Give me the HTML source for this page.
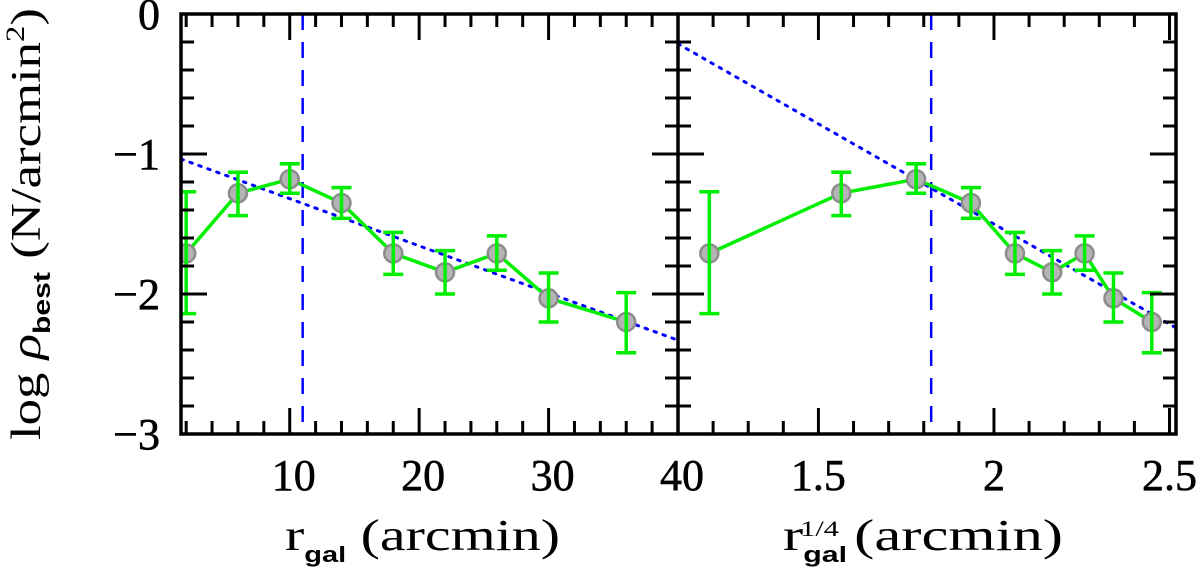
<!DOCTYPE html>
<html><head><meta charset="utf-8"><style>
html,body{margin:0;padding:0;background:#fff;}
svg{display:block;}
text{font-family:"Liberation Serif",serif;fill:#000;stroke:#000;stroke-width:0.6;}
text.title{stroke-width:0;}
</style></head><body>
<svg id="chart" width="1200" height="570" viewBox="0 0 1200 570" xmlns="http://www.w3.org/2000/svg">
<g id="g-left"></g>
<g id="g-right"></g>
<g id="g-axes"></g>
<text class="title" transform="translate(40,440) rotate(-90)" text-anchor="start" font-size="42" textLength="432" lengthAdjust="spacingAndGlyphs">log  <tspan font-style="italic">ρ</tspan><tspan font-family="Liberation Sans, sans-serif" font-weight="bold" font-size="24" dy="10">best</tspan><tspan dy="-10">  (N/arcmin</tspan><tspan font-size="26" dy="-16">2</tspan><tspan dy="16">)</tspan></text>
<text class="title" x="285" y="550" font-size="44" textLength="275" lengthAdjust="spacingAndGlyphs">r<tspan font-family="Liberation Sans, sans-serif" font-weight="bold" font-size="22" dy="12">gal</tspan><tspan dy="-12">  (arcmin)</tspan></text>
<text class="title" x="783" y="550" font-size="44" textLength="280" lengthAdjust="spacingAndGlyphs">r<tspan font-family="Liberation Sans, sans-serif" font-weight="bold" font-size="22" dy="12">gal</tspan><tspan font-size="22" dx="-34" dy="-26">1/4</tspan><tspan dy="14">  (arcmin)</tspan></text>
</svg>
<script>
// data
const rVals = [2, 6, 10, 14, 18, 22, 26, 30, 36];
const logRho = [-1.71, -1.28, -1.18, -1.35, -1.71, -1.845, -1.71, -2.03, -2.20];
const errHi = [-1.27, -1.13, -1.07, -1.24, -1.56, -1.69, -1.585, -1.85, -1.99];
const errLo = [-2.14, -1.44, -1.28, -1.46, -1.86, -2.00, -1.83, -2.20, -2.42];
const fitLeft = [-0.982, -0.0337];   // intercept, slope vs r
const fitRight = [1.36, -1.43];      // intercept, slope vs r^(1/4)
const rCut = 11.0;
const yTickLabels = ["0", "−1", "−2", "−3"];
const yTickVals = [0, -1, -2, -3];
const xTicksLeft = [10, 20, 30, 40];
const xTicksRight = [1.5, 2, 2.5];
const xTickLabelsRight = ["1.5", "2", "2.5"];

const NS = "http://www.w3.org/2000/svg";
const TOP = 14, BOT = 434;
const yS = v => TOP + (0 - v) * (BOT - TOP) / 3;
const L = {x0: 181, x1: 678, d0: 1.6, d1: 40};
const R = {x0: 678, x1: 1176, d0: 1.1, d1: 2.5185};
const xS = (p, v) => p.x0 + (v - p.d0) * (p.x1 - p.x0) / (p.d1 - p.d0);

function mk(tag, attrs, parent) {
  const e = document.createElementNS(NS, tag);
  for (const k in attrs) e.setAttribute(k, attrs[k]);
  parent.appendChild(e);
  return e;
}

function drawPanel(g, p, tf, fit) {
  const clipId = "clip" + p.x0;
  const cp = mk("clipPath", {id: clipId}, g);
  mk("rect", {x: p.x0, y: TOP, width: p.x1 - p.x0, height: BOT - TOP}, cp);
  const inner = mk("g", {"clip-path": "url(#" + clipId + ")"}, g);
  const fl = mk("line", {x1: xS(p, p.d0), y1: yS(fit[0] + fit[1] * p.d0), x2: xS(p, p.d1), y2: yS(fit[0] + fit[1] * p.d1), stroke: "#0000ff", "stroke-width": 3, "stroke-dasharray": "2.5 7", "stroke-linecap": "round"}, inner);
  
  
  const cx = xS(p, tf(rCut));
  const cl = mk("line", {x1: cx, y1: TOP, x2: cx, y2: BOT, stroke: "#0000ff", "stroke-width": 2.5, "stroke-dasharray": "16 12"}, inner);
  
  
  const pts = rVals.map((r, i) => xS(p, tf(r)) + "," + yS(logRho[i])).join(" ");
  const pl = mk("polyline", {points: pts, fill: "none", stroke: "#00ee00", "stroke-width": 3.5}, inner);
  
  
  rVals.forEach((r, i) => {
    const x = xS(p, tf(r));
    const c = mk("circle", {cx: x, cy: yS(logRho[i]), r: 9, fill: "#b4b4b4", stroke: "#8c8c8c", "stroke-width": 2.5}, inner);
    
    
  });
  rVals.forEach((r, i) => {
    const x = xS(p, tf(r));
    const eb = mk("path", {d: `M${x},${yS(errHi[i])}V${yS(errLo[i])}M${x-10},${yS(errHi[i])}h20M${x-10},${yS(errLo[i])}h20`, stroke: "#00ee00", "stroke-width": 3.5, fill: "none"}, inner);
    
    
  });
}
drawPanel(document.getElementById("g-left"), L, r => r, fitLeft);
drawPanel(document.getElementById("g-right"), R, r => Math.pow(r, 0.25), fitRight);

const ax = document.getElementById("g-axes");
let d = "";
for (let v = 0; v >= -3.001; v -= 0.2) {
  const y = yS(v);
  const major = Math.abs(v - Math.round(v)) < 1e-6;
  const len = major ? 26 : 13;
  d += `M${L.x0},${y}h${len}M${L.x1},${y}h${-len}M${R.x0},${y}h${len}M${R.x1},${y}h${-len}`;
}
for (let v = 2; v <= 40.001; v += 2) {
  const x = xS(L, v);
  const len = (v % 10 === 0) ? 26 : 13;
  d += `M${x},${BOT}v${-len}M${x},${TOP}v${len}`;
}
for (let k = 11; k <= 25; k++) {
  const v = k / 10, x = xS(R, v);
  const len = (k % 5 === 0) ? 26 : 13;
  d += `M${x},${BOT}v${-len}M${x},${TOP}v${len}`;
}
const tk = mk("path", {d: d, stroke: "#000", "stroke-width": 3, fill: "none"}, ax);


const fr = mk("path", {d: `M${L.x0},${TOP}H${R.x1}V${BOT}H${L.x0}ZM${L.x1},${TOP}V${BOT}`, stroke: "#000", "stroke-width": 3.5, fill: "none"}, ax);



yTickVals.forEach((v, i) => {
  const t = mk("text", {x: 160, y: yS(v) + 15, "text-anchor": "end", "font-size": 44}, ax);
  t.textContent = yTickLabels[i];
  
  
});
xTicksLeft.forEach(v => {
  const t = mk("text", {x: xS(L, v) + 4, y: 490, "text-anchor": "middle", "font-size": 44}, ax);
  t.textContent = String(v);
  
  
});
xTicksRight.forEach((v, i) => {
  const t = mk("text", {x: xS(R, v), y: 490, "text-anchor": "middle", "font-size": 44}, ax);
  t.textContent = xTickLabelsRight[i];
  
  
});
</script>
</body></html>
